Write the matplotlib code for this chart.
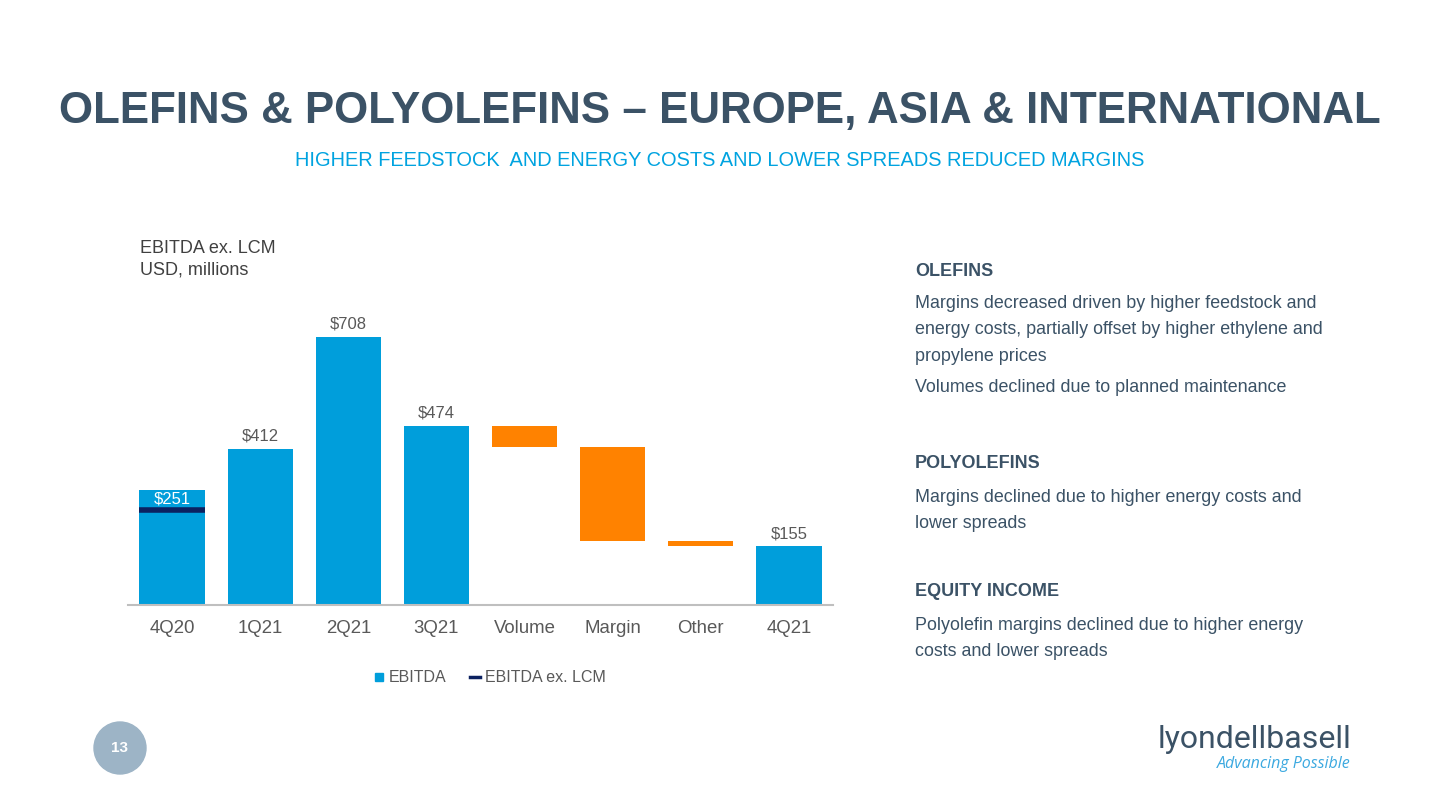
import matplotlib.pyplot as plt
import matplotlib.patches as mpatches
from matplotlib.lines import Line2D
import numpy as np

plt.rcParams['font.family'] = ['Liberation Sans', 'DejaVu Sans']

# Dados do gráfico (USD, milhões)
categorias = ["4Q20", "1Q21", "2Q21", "3Q21", "Volume", "Margin", "Other", "4Q21"]
ebitda = [304, 412, 708, 474]
ebitda_ex_lcm = [251, 412, 708, 474]
variacoes = [-57, -248, -14]
ebitda_final = 155
rotulos = ["$251", "$412", "$708", "$474"]

azul = "#009EDB"
laranja = "#FF8200"
marinho = "#0B2160"
ardosia = "#3B5266"
cinza = "#595959"

fig = plt.figure(figsize=(14.4, 8.1), dpi=100)

# Título e subtítulo
fig.text(0.5, 1 - 112 / 810, "OLEFINS & POLYOLEFINS – EUROPE, ASIA & INTERNATIONAL",
         ha="center", va="center", fontsize=31.6, fontweight="bold", color=ardosia)
fig.text(0.5, 1 - 161 / 810, "HIGHER FEEDSTOCK  AND ENERGY COSTS AND LOWER SPREADS REDUCED MARGINS",
         ha="center", va="center", fontsize=14.4, color="#00A3E0")

fig.text(140 / 1440, 1 - 248 / 810, "EBITDA ex. LCM", ha="left", va="center", fontsize=13, color="#404040")
fig.text(140 / 1440, 1 - 270 / 810, "USD, millions", ha="left", va="center", fontsize=13, color="#404040")

# Eixo principal
ax = fig.add_axes([128 / 1440, 1 - 605 / 810, 705 / 1440, 300 / 810])
x = np.arange(len(categorias))
largura = 0.74

# Barras de EBITDA
ax.bar(x[:4], ebitda, width=largura, color=azul, zorder=2)
ax.bar(x[7], ebitda_final, width=largura, color=azul, zorder=2)

# Linha EBITDA ex. LCM no 4Q20
ax.hlines(ebitda_ex_lcm[0], x[0] - largura / 2, x[0] + largura / 2, color=marinho, lw=4, zorder=3)

# Cascata (Volume, Margin, Other)
nivel = ebitda[3]
for i, v in enumerate(variacoes):
    ax.bar(x[4 + i], -v, bottom=nivel + v, width=largura, color=laranja, zorder=2)
    nivel = nivel + v

# Rótulos de valor
for i in range(1, 4):
    ax.text(x[i], ebitda[i] + 14, rotulos[i], ha="center", va="bottom", fontsize=12, color=cinza)
ax.text(x[0], (ebitda[0] + ebitda_ex_lcm[0]) / 2 + 3, rotulos[0], ha="center", va="center",
        fontsize=12, color="white")
ax.text(x[7], ebitda_final + 14, "$" + str(ebitda_final), ha="center", va="bottom", fontsize=12, color=cinza)

ax.set_xlim(-0.5, 7.5)
ax.set_ylim(0, 792.6)
ax.set_xticks(x)
ax.set_xticklabels(categorias, fontsize=13.4, color=cinza)
ax.tick_params(axis="x", length=0, pad=11)
ax.set_yticks([])
for lado in ["top", "right", "left"]:
    ax.spines[lado].set_visible(False)
ax.spines["bottom"].set_color("#BFBFBF")
ax.spines["bottom"].set_linewidth(1.5)

# Legenda
legenda = [Line2D([0], [0], marker="s", color="none", markerfacecolor=azul, markeredgecolor=azul,
                  markersize=6, label="EBITDA"),
           Line2D([0], [0], color=marinho, lw=2.5, label="EBITDA ex. LCM")]
fig.legend(handles=legenda, loc="center", bbox_to_anchor=(490 / 1440, 1 - 678 / 810), ncol=2,
           frameon=False, fontsize=11.5, handlelength=0.6, handletextpad=0.3, columnspacing=1.5,
           labelcolor=cinza)

# Texto do lado direito
x_txt = 915 / 1440
blocos = [
    (271, "OLEFINS", True),
    (304, "Margins decreased driven by higher feedstock and", False),
    (330, "energy costs, partially offset by higher ethylene and", False),
    (356, "propylene prices", False),
    (388, "Volumes declined due to planned maintenance", False),
    (463, "POLYOLEFINS", True),
    (497, "Margins declined due to higher energy costs and", False),
    (523, "lower spreads", False),
    (591, "EQUITY INCOME", True),
    (625, "Polyolefin margins declined due to higher energy", False),
    (651, "costs and lower spreads", False),
]
for y, txt, negrito in blocos:
    fig.text(x_txt, 1 - y / 810, txt, ha="left", va="center",
             fontsize=13 if negrito else 12.9,
             fontweight="bold" if negrito else "normal", color=ardosia)

# Número da página
fig.patches.append(mpatches.Ellipse((120 / 1440, 1 - 748 / 810), 52 / 1440, 52 / 810,
                                    transform=fig.transFigure, color="#9DB4C6", zorder=1))
fig.text(120 / 1440, 1 - 748 / 810, "13", ha="center", va="center", fontsize=11,
         fontweight="bold", color="white", zorder=2)

# Logo
fig.text(1351 / 1440, 1 - 740 / 810, "lyondellbasell", ha="right", va="center",
         fontsize=23, color=ardosia, family=["Roboto", "DejaVu Sans"])
fig.text(1351 / 1440, 1 - 764 / 810, "Advancing Possible", ha="right", va="center",
         fontsize=11.5, style="italic", color="#3CA9E0", family=["Open Sans", "DejaVu Sans"])

plt.savefig("out.png", dpi=100)
